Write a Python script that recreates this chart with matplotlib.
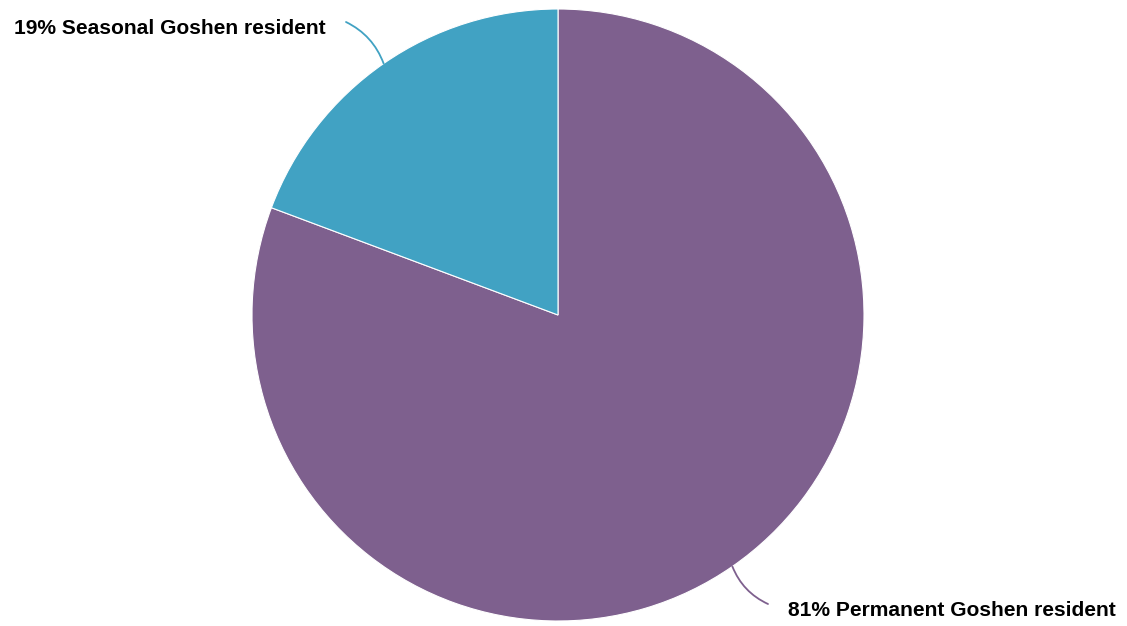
import numpy as np
import matplotlib.pyplot as plt

# --- data ---
labels = ["Permanent Goshen resident", "Seasonal Goshen resident"]
shares = [80.7, 19.3]
colors = ["#7e608e", "#41a2c3"]

W, H = 1127, 626
fig = plt.figure(figsize=(W / 100, H / 100), dpi=100)
ax = fig.add_axes([0, 0, 1, 1])

cx, cy, r = 558, H - 315, 306
wedges, _ = ax.pie(
    shares, colors=colors, startangle=90, counterclock=False,
    center=(cx, cy), radius=r, frame=True,
    wedgeprops=dict(edgecolor="white", linewidth=0.8),
)
ax.set_xlim(0, W)
ax.set_ylim(0, H)
ax.set_aspect("equal")
ax.axis("off")

# label placement: (connector end, text anchor, ha, curvature)
label_pos = [
    ((768, H - 604), (788, H - 610), "left", -0.2),
    ((346, H - 22), (326, H - 28), "right", -0.2),
]

for w, lab, val, col, (end, txt, ha, rad) in zip(
        wedges, labels, shares, colors, label_pos):
    mid = np.deg2rad((w.theta1 + w.theta2) / 2)
    edge = (cx + r * np.cos(mid), cy + r * np.sin(mid))
    ax.annotate("", xy=edge, xytext=end,
                arrowprops=dict(arrowstyle="-", color=col, lw=1.3,
                                shrinkA=0, shrinkB=0,
                                connectionstyle=f"arc3,rad={rad}"))
    ax.text(txt[0], txt[1], f"{round(val)}% {lab}", ha=ha, va="center",
            fontsize=15.15, fontweight="bold", family="Liberation Sans",
            color="black")

fig.savefig("out.png", dpi=100)
